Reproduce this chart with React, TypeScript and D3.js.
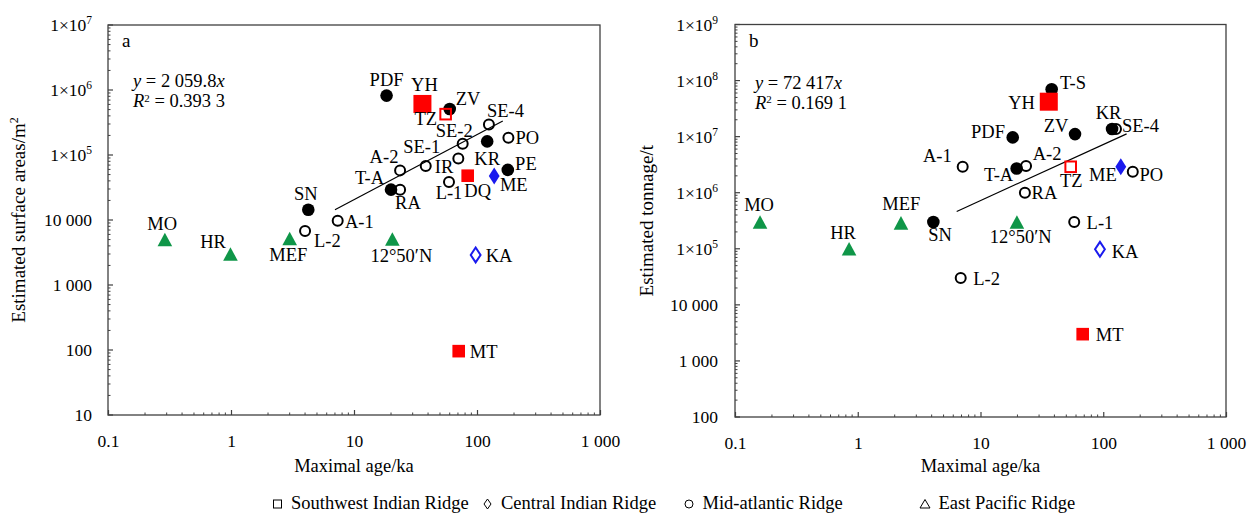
import React, { useEffect, useRef } from "react";
import * as d3 from "d3";

// panel a: estimated surface area (m2) vs maximal age (ka)
const areaSites = ["PDF", "YH", "ZV", "TZ", "SE-4", "SE-2", "PO", "KR", "SE-1", "IR", "A-2", "T-A", "RA", "PE", "L-1", "DQ", "ME", "SN", "A-1", "L-2", "12°50′N", "KA", "MO", "HR", "MEF", "MT"];
const areaAges = [18.4, 36, 60, 55.6, 125, 76.5, 180, 121, 38.3, 70.5, 23.7, 20, 23.7, 178, 59.2, 84, 138, 4.25, 7.37, 4.0, 20.5, 97.5, 0.29, 0.99, 3.0, 71];
const areaValues = [8.2e5, 6.1e5, 5.1e5, 4.25e5, 2.95e5, 1.49e5, 1.85e5, 1.62e5, 6.8e4, 8.8e4, 5.8e4, 2.93e4, 2.93e4, 5.9e4, 3.84e4, 4.8e4, 4.75e4, 1.44e4, 9.7e3, 6.8e3, 5.1e3, 2.9e3, 5.0e3, 3.0e3, 5.2e3, 96];

// panel b: estimated tonnage (t) vs maximal age (ka)
const tonSites = ["T-S", "YH", "KR", "SE-4", "PDF", "ZV", "A-1", "T-A", "A-2", "TZ", "ME", "PO", "RA", "SN", "MEF", "12°50′N", "L-1", "KA", "L-2", "MO", "HR", "MT"];
const tonAges = [38, 36, 118, 127, 18.3, 58.9, 7.16, 19.7, 23.5, 54.3, 139, 174, 23, 4.13, 2.25, 19.8, 58, 94, 6.9, 0.16, 0.85, 68];
const tonValues = [7.0e7, 4.2e7, 1.37e7, 1.37e7, 9.7e6, 1.11e7, 2.9e6, 2.7e6, 3.0e6, 2.9e6, 2.9e6, 2.37e6, 1.0e6, 3.0e5, 2.9e5, 3.0e5, 3.0e5, 9.8e4, 3.0e4, 3.0e5, 1.0e5, 3.0e3];

// marker type of each site
const siteKind: Record<string, string> = {
  PDF: "dot", YH: "bigSq", ZV: "dot", TZ: "openSq", "SE-4": "ring", "SE-2": "ring", PO: "ring",
  KR: "dot", "SE-1": "ring", IR: "ring", "A-2": "ring", "T-A": "dot", RA: "ring", PE: "dot",
  "L-1": "ring", DQ: "sq", ME: "dia", SN: "dot", "A-1": "ring", "L-2": "ring", "12°50′N": "tri",
  KA: "openDia", MO: "tri", HR: "tri", MEF: "tri", MT: "sq", "T-S": "dot",
};

const xTicks = [0.1, 1, 10, 100, 1000];
const xTickLabels = ["0.1", "1", "10", "100", "1 000"];
const areaTicks = [10, 100, 1000, 1e4, 1e5, 1e6, 1e7];
const areaTickLabels = ["10", "100", "1 000", "10 000", "1×10^5", "1×10^6", "1×10^7"];
const tonTicks = [100, 1000, 1e4, 1e5, 1e6, 1e7, 1e8, 1e9];
const tonTickLabels = ["100", "1 000", "10 000", "1×10^5", "1×10^6", "1×10^7", "1×10^8", "1×10^9"];

// linear fits y = k x
const fitSlopes = [2059.8, 72417];
const fitSlopeText = ["2 059.8", "72 417"];
const fitR2Text = ["0.393 3", "0.169 1"];
const fitFrom = [7, 6.4];
const fitTo = [162, 155];

const legendNames = ["Southwest Indian Ridge", "Central Indian Ridge", "Mid-atlantic Ridge", "East Pacific Ridge"];
const legendShapes = ["square", "diamond", "circle", "triangle"];

// label placement [dx, dy, anchor]
const areaLabelPos: Record<string, [number, number, string]> = {
  PDF: [0, -10, "middle"], YH: [2, -12.6, "middle"], ZV: [6, -4, "start"], TZ: [-8.5, 11.3, "end"],
  "SE-4": [-2, -7.3, "start"], "SE-2": [10, -6.3, "end"], PO: [7, 6, "start"], KR: [0, 23.3, "middle"],
  "SE-1": [-4, -12.4, "middle"], IR: [-5, 14.4, "end"], "A-2": [-1.7, -7.3, "end"], "T-A": [-7, -6, "end"],
  RA: [-5, 19, "start"], PE: [7.3, 0, "start"], "L-1": [0, 16.6, "middle"], DQ: [-3.4, 21.4, "start"],
  ME: [5.7, 15, "start"], SN: [-2.5, -10, "middle"], "A-1": [7.3, 7, "start"], "L-2": [9, 16, "start"],
  "12°50′N": [9, 23, "middle"], KA: [10, 7.3, "start"], MO: [-2.7, -9.7, "middle"], HR: [-4.5, -5.5, "end"],
  MEF: [-1.4, 22.7, "middle"], MT: [11, 7, "start"],
};
const tonLabelPos: Record<string, [number, number, string]> = {
  "T-S": [8.3, 0, "start"], YH: [-13.8, 7.3, "end"], KR: [-3.5, -10, "middle"], "SE-4": [6, 3, "start"],
  PDF: [-7.7, 1, "end"], ZV: [-6.7, -2.3, "end"], "A-1": [-11, -5, "end"], "T-A": [-3.4, 12.4, "end"],
  "A-2": [6.7, -6, "start"], TZ: [0.6, 20, "middle"], ME: [-4, 14, "end"], PO: [6.6, 9, "start"],
  RA: [6.7, 6.6, "start"], SN: [6.7, 19, "middle"], MEF: [0.3, -12.7, "middle"], "12°50′N": [3.8, 21.3, "middle"],
  "L-1": [12.4, 6.6, "start"], KA: [11.7, 9, "start"], "L-2": [12.6, 7, "start"], MO: [-1, -11, "middle"],
  HR: [-6, -10, "middle"], MT: [13, 7, "start"],
};

const FONT = '"Liberation Serif", "Times New Roman", Times, serif';
const AXIS = "#404040";
const RED = "#ff0000";
const BLUE = "#1a1aee";
const GREEN = "#0f9648";
const kindOrder = ["tri", "dot", "ring", "sq", "openSq", "dia", "openDia", "bigSq"];

const markerShape = (sel: any, kind: string) => {
  if (kind === "dot") sel.append("circle").attr("r", 6.3).attr("fill", "#000");
  else if (kind === "ring") sel.append("circle").attr("r", 5).attr("fill", "none").attr("stroke", "#000").attr("stroke-width", 2);
  else if (kind === "bigSq") sel.append("rect").attr("x", -9).attr("y", -9).attr("width", 18).attr("height", 18).attr("fill", RED);
  else if (kind === "sq") sel.append("rect").attr("x", -6.3).attr("y", -6.3).attr("width", 12.6).attr("height", 12.6).attr("fill", RED);
  else if (kind === "openSq") sel.append("rect").attr("x", -5.3).attr("y", -5.3).attr("width", 10.6).attr("height", 10.6).attr("fill", "none").attr("stroke", RED).attr("stroke-width", 2);
  else if (kind === "dia") sel.append("path").attr("d", "M0,-8.5L5.4,0L0,8.5L-5.4,0Z").attr("fill", BLUE);
  else if (kind === "openDia") sel.append("path").attr("d", "M0,-7.4L4.9,0L0,7.4L-4.9,0Z").attr("fill", "none").attr("stroke", BLUE).attr("stroke-width", 2);
  else if (kind === "tri") sel.append("path").attr("d", "M0,-6.8L7.3,6.8L-7.3,6.8Z").attr("fill", GREEN);
};

const supText = (sel: any, label: string, small: number) => {
  const [base, sup] = label.split("^");
  sel.append("tspan").text(base);
  if (sup) sel.append("tspan").attr("dy", -7).attr("font-size", small).text(sup);
};

const App = () => {
  const ref = useRef<SVGSVGElement>(null);

  useEffect(() => {
    drawChart();
  }, []);

  const drawPanel = (svg: any, p: any) => {
    const x = d3.scaleLog().domain([0.1, 1000]).range([p.left, p.right]);
    const y = d3.scaleLog().domain([p.yTicks[0], p.yTicks[p.yTicks.length - 1]]).range([p.bottom, p.top]);
    const g = svg.append("g").attr("font-family", FONT).attr("fill", "#000");

    // minor ticks
    const xMinor = x.ticks().filter((t: number) => !xTicks.some((m) => Math.abs(m - t) / m < 1e-6));
    g.append("g").selectAll("line").data(xMinor).join("line")
      .attr("x1", (d: number) => x(d)).attr("x2", (d: number) => x(d))
      .attr("y1", p.bottom).attr("y2", p.bottom - 2.5)
      .attr("stroke", AXIS).attr("stroke-width", 1);
    const yMinor = y.ticks().filter((t: number) => !p.yTicks.some((m: number) => Math.abs(m - t) / m < 1e-6));
    g.append("g").selectAll("line").data(yMinor).join("line")
      .attr("x1", p.left).attr("x2", p.left + 2.5)
      .attr("y1", (d: number) => y(d)).attr("y2", (d: number) => y(d))
      .attr("stroke", AXIS).attr("stroke-width", 1);

    // x axis (major ticks + labels)
    g.append("g")
      .attr("transform", `translate(0,${p.bottom})`)
      .call(d3.axisBottom(x).tickValues(xTicks).tickFormat((_d: any, i: number) => xTickLabels[i]).tickSize(-5).tickPadding(19.5))
      .call((a: any) => a.select(".domain").remove())
      .call((a: any) => a.selectAll("line").attr("stroke", AXIS).attr("stroke-width", 1.2))
      .call((a: any) => a.selectAll("text").attr("font-family", FONT).attr("font-size", 17.5).attr("fill", "#000"));

    // y axis major ticks + labels with superscripts
    g.append("g").selectAll("line").data(p.yTicks).join("line")
      .attr("x1", p.left).attr("x2", p.left + 5)
      .attr("y1", (d: number) => y(d)).attr("y2", (d: number) => y(d))
      .attr("stroke", AXIS).attr("stroke-width", 1.2);
    p.yTicks.forEach((t: number, i: number) => {
      const txt = g.append("text")
        .attr("x", p.left - p.yLabelGap).attr("y", y(t) + 6)
        .attr("text-anchor", "end").attr("font-size", 17.5);
      supText(txt, p.yTickLabels[i], 11.5);
    });

    // frame
    g.append("rect")
      .attr("x", p.left).attr("y", p.top)
      .attr("width", p.right - p.left).attr("height", p.bottom - p.top)
      .attr("fill", "none").attr("stroke", AXIS).attr("stroke-width", 1.3);

    // axis titles
    g.append("text")
      .attr("x", (p.left + p.right) / 2).attr("y", 472)
      .attr("text-anchor", "middle").attr("font-size", 18.5)
      .text("Maximal age/ka");
    const yt = g.append("text")
      .attr("transform", `translate(${p.yTitleX},${(p.top + p.bottom) / 2}) rotate(-90)`)
      .attr("text-anchor", "middle").attr("font-size", 19);
    supText(yt, p.yTitle, 12);

    // panel letter + equation
    g.append("text").attr("x", p.left + 14).attr("y", 47).attr("font-size", 19).text(p.letter);
    const eq = g.append("text").attr("x", p.left + p.eqDx).attr("y", p.eqY).attr("font-size", 18.5);
    eq.append("tspan").attr("font-style", "italic").text("y");
    eq.append("tspan").text(` = ${fitSlopeText[p.idx]}`);
    eq.append("tspan").attr("font-style", "italic").text("x");
    const r2 = g.append("text").attr("x", p.left + p.eqDx).attr("y", p.eqY + 20).attr("font-size", 18.5);
    r2.append("tspan").attr("font-style", "italic").text("R");
    r2.append("tspan").attr("dy", -5.5).attr("font-size", 11).text("2");
    r2.append("tspan").attr("dy", 5.5).text(` = ${fitR2Text[p.idx]}`);

    // fit line
    const line = d3.line<number>().x((d) => x(d)).y((d) => y(fitSlopes[p.idx] * d));
    g.append("path")
      .attr("d", line([fitFrom[p.idx], fitTo[p.idx]]))
      .attr("fill", "none").attr("stroke", "#000").attr("stroke-width", 1.2);

    // points
    const pts = p.sites.map((s: string, i: number) => ({ s, age: p.ages[i], v: p.values[i], kind: siteKind[s] }));
    pts.sort((a: any, b: any) => kindOrder.indexOf(a.kind) - kindOrder.indexOf(b.kind));
    pts.forEach((d: any) => {
      const m = g.append("g").attr("transform", `translate(${x(d.age)},${y(d.v)})`);
      markerShape(m, d.kind);
    });

    // point labels
    p.sites.forEach((s: string, i: number) => {
      const [dx, dy, anchor] = p.labelPos[s];
      g.append("text")
        .attr("x", x(p.ages[i]) + dx).attr("y", y(p.values[i]) + dy)
        .attr("text-anchor", anchor).attr("font-size", 18.5)
        .text(s);
    });
  };

  const drawChart = () => {
    const svg = d3.select(ref.current);
    svg.selectAll("*").remove();

    drawPanel(svg, {
      idx: 0, letter: "a", left: 108, right: 600, top: 25, bottom: 415,
      sites: areaSites, ages: areaAges, values: areaValues,
      yTicks: areaTicks, yTickLabels: areaTickLabels, yLabelGap: 16,
      yTitle: "Estimated surface areas/m^2", yTitleX: 25,
      eqDx: 25, eqY: 87, labelPos: areaLabelPos,
    });
    drawPanel(svg, {
      idx: 1, letter: "b", left: 735, right: 1226, top: 24.5, bottom: 417,
      sites: tonSites, ages: tonAges, values: tonValues,
      yTicks: tonTicks, yTickLabels: tonTickLabels, yLabelGap: 17,
      yTitle: "Estimated tonnage/t", yTitleX: 653,
      eqDx: 20, eqY: 88.5, labelPos: tonLabelPos,
    });

    // legend
    const legendX = [277.5, 487.5, 689, 925];
    const lg = svg.append("g").attr("font-family", FONT);
    legendNames.forEach((name, i) => {
      const cx = legendX[i];
      const cy = 504;
      const shape = legendShapes[i];
      if (shape === "square") lg.append("rect").attr("x", cx - 4).attr("y", cy - 4).attr("width", 8).attr("height", 8);
      else if (shape === "diamond") lg.append("path").attr("d", `M${cx},${cy - 5}L${cx + 3.5},${cy}L${cx},${cy + 5}L${cx - 3.5},${cy}Z`);
      else if (shape === "circle") lg.append("circle").attr("cx", cx).attr("cy", cy).attr("r", 4);
      else lg.append("path").attr("d", `M${cx},${cy - 4.5}L${cx + 5},${cy + 4}L${cx - 5},${cy + 4}Z`);
      lg.selectAll("rect,path,circle").attr("fill", "none").attr("stroke", "#000").attr("stroke-width", 1);
      lg.append("text").attr("x", cx + 13.5).attr("y", 509).attr("font-size", 18.5).attr("fill", "#000").text(name);
    });
  };

  return (
    <div style={{ position: "absolute", left: 0, top: 0 }}>
      <svg ref={ref} width={1247} height={516} style={{ display: "block", background: "#fff" }} />
    </div>
  );
};

export default App;
